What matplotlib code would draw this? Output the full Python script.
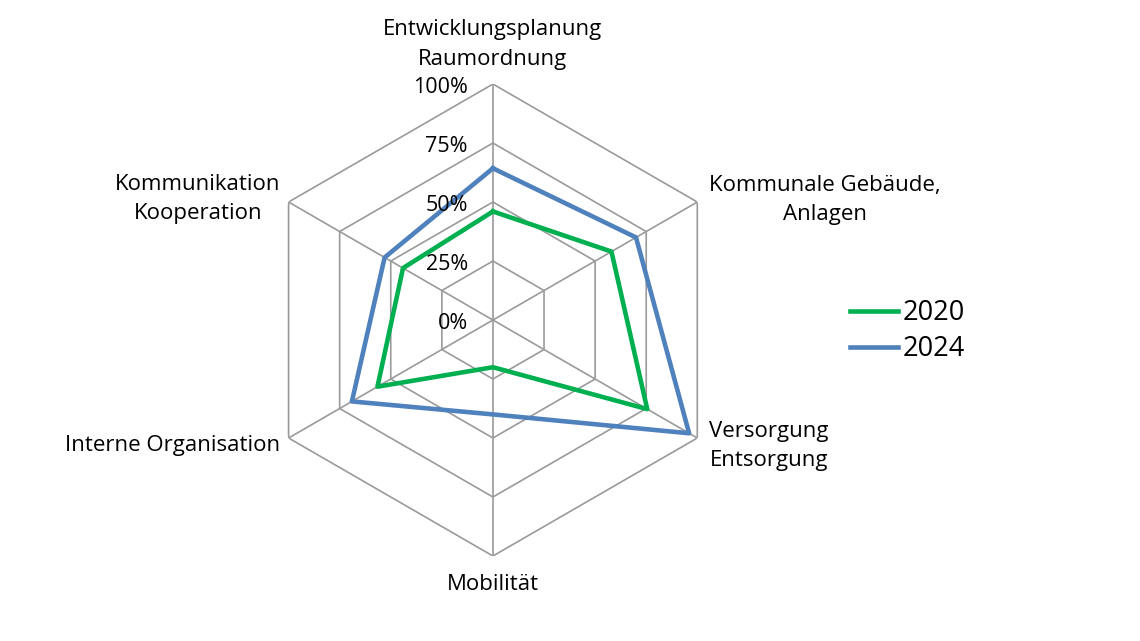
import matplotlib
matplotlib.use('Agg')
import matplotlib.pyplot as plt
import numpy as np

plt.rcParams['font.family'] = ['Open Sans', 'DejaVu Sans']

categories = ['Entwicklungsplanung\nRaumordnung', 'Kommunale Gebäude,\nAnlagen',
              'Versorgung\nEntsorgung', 'Mobilität', 'Interne Organisation',
              'Kommunikation\nKooperation']
v2020 = [0.46, 0.58, 0.755, 0.20, 0.565, 0.44]
v2024 = [0.643, 0.70, 0.96, 0.40, 0.69, 0.53]
ring_levels = [0.25, 0.5, 0.75, 1.0]
ring_labels = ['0%', '25%', '50%', '75%', '100%']

green = '#00b050'
blue = '#4f81bd'
gridc = '#9a9a9a'

n = len(categories)
theta = np.linspace(0, 2 * np.pi, n, endpoint=False)
theta_closed = np.append(theta, theta[0])

fig = plt.figure(figsize=(11.4, 6.41), dpi=100)
ax = fig.add_axes([0.2254, 0.1326, 0.414, 0.7363], projection='polar')
ax.set_theta_zero_location('N')
ax.set_theta_direction(-1)
ax.set_ylim(0, 1)
ax.grid(False)
ax.spines['polar'].set_visible(False)
ax.set_xticks([])
ax.set_yticks([])
ax.patch.set_visible(False)

# hexagon grid
for lv in ring_levels:
    ax.plot(theta_closed, [lv] * (n + 1), color=gridc, lw=1.2, zorder=1)
for t in theta:
    ax.plot([t, t], [0, 1], color=gridc, lw=1.2, zorder=1)

# series
ax.plot(theta_closed, v2020 + [v2020[0]], color=green, lw=3.3, label='2020', zorder=3)
ax.plot(theta_closed, v2024 + [v2024[0]], color=blue, lw=3.3, label='2024', zorder=3)

# radial labels
for i, lab in enumerate(ring_labels):
    ax.annotate(lab, xy=(0, i * 0.25), xytext=(-25, -3), textcoords='offset pixels',
                ha='right', va='center', fontsize=15.5, annotation_clip=False)

# category labels
offsets = [(0, 14), (12, 2), (12, -8), (0, -18), (-8, -7), (-8, 3)]
aligns = [('center', 'bottom'), ('left', 'center'), ('left', 'center'),
          ('center', 'top'), ('right', 'center'), ('right', 'center')]
for t, lab, off, al in zip(theta, categories, offsets, aligns):
    ax.annotate(lab, xy=(t, 1), xytext=off, textcoords='offset pixels',
                ha=al[0], va=al[1], multialignment='center', fontsize=16,
                linespacing=1.55, annotation_clip=False)

fig.legend(loc='center left', bbox_to_anchor=(0.724, 0.483), frameon=False,
           fontsize=19.5, handlelength=1.8, handletextpad=0.15, labelspacing=0.3)

fig.savefig('out.png', dpi=100)
